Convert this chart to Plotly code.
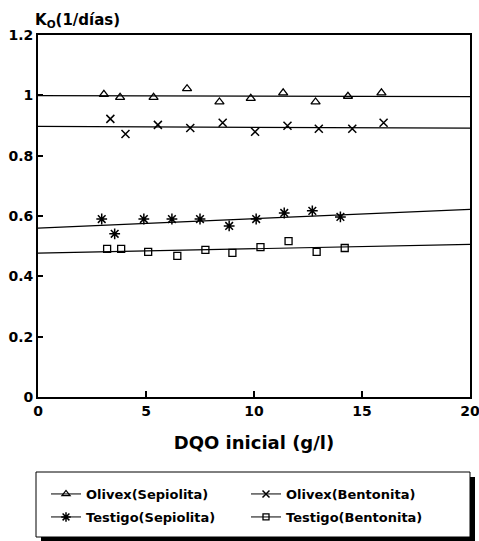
import plotly.graph_objects as go

# ---- data ----
olivex_sep_x = [3.05, 3.8, 5.35, 6.9, 8.4, 9.85, 11.35, 12.85, 14.35, 15.9]
olivex_sep_y = [1.003, 0.993, 0.993, 1.022, 0.978, 0.99, 1.008, 0.978, 0.997, 1.008]

olivex_ben_x = [3.35, 4.05, 5.55, 7.05, 8.55, 10.05, 11.55, 13.0, 14.55, 16.0]
olivex_ben_y = [0.922, 0.872, 0.902, 0.892, 0.909, 0.879, 0.899, 0.889, 0.889, 0.909]

testigo_sep_x = [2.95, 3.55, 4.9, 6.2, 7.5, 8.85, 10.1, 11.4, 12.7, 14.0]
testigo_sep_y = [0.59, 0.541, 0.59, 0.59, 0.59, 0.567, 0.59, 0.61, 0.617, 0.597]

testigo_ben_x = [3.2, 3.85, 5.1, 6.45, 7.75, 9.0, 10.3, 11.6, 12.9, 14.2]
testigo_ben_y = [0.491, 0.491, 0.481, 0.468, 0.488, 0.478, 0.497, 0.517, 0.481, 0.494]

# fitted lines (end points)
fit_x = [0, 20]
fit_olivex_sep = [0.999, 0.996]
fit_olivex_ben = [0.897, 0.891]
fit_testigo_sep = [0.560, 0.622]
fit_testigo_ben = [0.477, 0.506]

series_names = ["Olivex(Sepiolita)", "Olivex(Bentonita)",
                "Testigo(Sepiolita)", "Testigo(Bentonita)"]

x_ticks = [0, 5, 10, 15, 20]
y_ticks = [0, 0.2, 0.4, 0.6, 0.8, 1, 1.2]

FONT = "DejaVu Sans"
BLACK = "black"

W, H = 479, 541
PL, PT, PW, PH = 38, 35, 432, 362   # plot area in window pixels


def px_x(wx):
    return (wx - PL) / PW


def px_y(wy):
    return (PT + PH - wy) / PH


fig = go.Figure()

series = [
    (olivex_sep_x, olivex_sep_y, fit_olivex_sep, "triangle-up-open", 8, 1.3, series_names[0], "legend"),
    (olivex_ben_x, olivex_ben_y, fit_olivex_ben, "x-thin", 8, 1.5, series_names[1], "legend"),
    (testigo_sep_x, testigo_sep_y, fit_testigo_sep, "asterisk", 9, 1.5, series_names[2], "legend2"),
    (testigo_ben_x, testigo_ben_y, fit_testigo_ben, "square-open", 7, 1.3, series_names[3], "legend2"),
]

for xs, ys, fit, sym, size, lw, name, leg in series:
    fig.add_trace(go.Scatter(x=fit_x, y=fit, mode="lines",
                             line=dict(color=BLACK, width=1.2),
                             showlegend=False, hoverinfo="skip"))
    fig.add_trace(go.Scatter(x=xs, y=ys, mode="markers", name=name,
                             marker=dict(symbol=sym, size=size, color=BLACK,
                                         line=dict(color=BLACK, width=lw)),
                             showlegend=False))
    fig.add_trace(go.Scatter(x=[None], y=[None], mode="lines+markers", name=name,
                             line=dict(color=BLACK, width=1),
                             marker=dict(symbol=sym, size=size - 1, color=BLACK,
                                         line=dict(color=BLACK, width=lw)),
                             legend=leg, showlegend=True))

# legend frame with drop shadow
fig.add_shape(type="rect", xref="paper", yref="paper",
              x0=px_x(41), x1=px_x(475), y0=px_y(477), y1=px_y(541),
              fillcolor=BLACK, line=dict(width=0), layer="above")
fig.add_shape(type="rect", xref="paper", yref="paper",
              x0=px_x(36), x1=px_x(470), y0=px_y(472), y1=px_y(537),
              fillcolor="white", line=dict(color=BLACK, width=1), layer="above")

legend_common = dict(orientation="h", xanchor="left", yanchor="top",
                     bgcolor="rgba(0,0,0,0)", borderwidth=0,
                     entrywidth=155, entrywidthmode="pixels",
                     font=dict(family=FONT, size=13, color=BLACK, weight="bold"))

fig.update_layout(
    width=W, height=H,
    margin=dict(l=PL, r=W - PL - PW, t=PT, b=H - PT - PH, autoexpand=False),
    paper_bgcolor="white", plot_bgcolor="white",
    font=dict(family=FONT, color=BLACK),
    legend=dict(x=px_x(46), y=px_y(479), **legend_common),
    legend2=dict(x=px_x(46), y=px_y(502), **legend_common),
    xaxis=dict(range=[0, 20], tickvals=x_ticks, ticks="inside", ticklen=6,
               tickwidth=1.5, tickcolor=BLACK, showgrid=False, zeroline=False,
               showline=True, linecolor=BLACK, linewidth=1.8, mirror=True,
               automargin=False, ticklabeloverflow="allow",
               tickfont=dict(family=FONT, size=14, color=BLACK, weight="bold"),
               title=dict(text="DQO inicial (g/l)", standoff=19,
                          font=dict(family=FONT, size=18, color=BLACK, weight="bold"))),
    yaxis=dict(range=[0, 1.2], tickvals=y_ticks, ticks="inside", ticklen=5,
               tickwidth=1.5, tickcolor=BLACK, showgrid=False, zeroline=False,
               showline=True, linecolor=BLACK, linewidth=1.8, mirror=True,
               automargin=False, ticklabeloverflow="allow",
               tickfont=dict(family=FONT, size=14, color=BLACK, weight="bold")),
)

fig.add_annotation(text="K<sub>O</sub>(1/días)", xref="paper", yref="paper",
                   x=px_x(33), y=px_y(20), xanchor="left", yanchor="middle",
                   showarrow=False,
                   font=dict(family=FONT, size=15, color=BLACK, weight="bold"))

# remove the browser's default 8px page margin so the figure fills the window
fig.write_html("out.html", config={"displayModeBar": False},
               post_script="document.body.style.margin='0';")
